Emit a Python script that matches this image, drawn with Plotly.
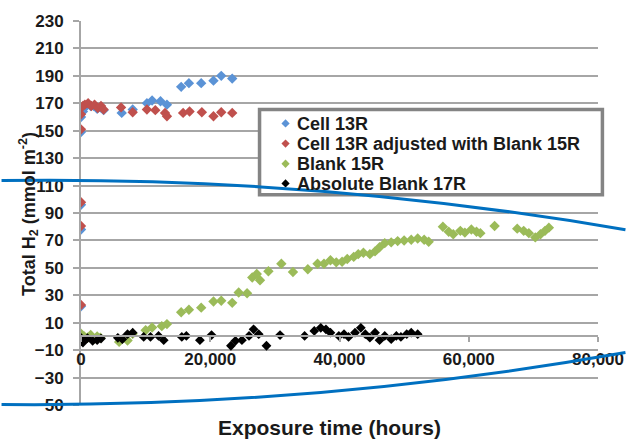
import plotly.graph_objects as go

# ---------------- data ----------------
cell_x = [0, 0, 0, 0, 0, 300, 600, 1000, 1500, 2000, 2500, 3000, 3500,
          6300, 8000, 10200, 11000, 12300, 13300, 15500, 16700, 18600, 20500, 21700, 23400]
cell_y = [22, 78, 96, 149, 160, 164, 167, 169, 168, 168, 166, 167, 165,
          163, 165.5, 170, 172, 171.5, 169, 182, 184.7, 184.7, 186.5, 190, 188]

adj_x = [0, 0, 0, 0, 0, 0, 300, 600, 1100, 1600, 2100, 2600, 3100, 3500,
         6200, 8000, 10200, 11500, 13000, 13300, 15800, 16800, 18700, 20500, 21700, 23400]
adj_y = [23, 80.5, 97.8, 151, 162, 167, 168, 169, 170, 168, 169, 166.5, 168, 165.5,
         167, 163.5, 165.5, 165, 163, 160.5, 163, 164, 163.5, 160.5, 163.5, 163]

blank_x = [0, 500, 1000, 1500, 2000, 2500, 3000, 5900, 7200, 8000, 10000, 11000, 12500, 13300,
           15500, 16700, 18600, 20500, 21700, 23400, 24400, 25700, 26500, 27200, 27700, 29000,
           31000, 32800, 35100, 36600, 37600, 38600, 39500, 40400, 41200, 42200, 42900, 43700,
           44700, 45500, 46200, 47000, 48000, 49000, 50000, 51100, 52100, 53100, 53800,
           56000, 56900, 57600, 58700, 59400, 60400, 61200, 61800, 64000, 67500, 68500,
           69300, 70300, 71100, 71800, 72400]
blank_y = [2, 0, -1, 1, -2, 0, -1, -4, -3, 2, 4.5, 6.5, 7.5, 9,
           17.6, 19.5, 21, 25.5, 26, 24.5, 32, 31.5, 43, 45.5, 41, 47.5,
           53, 47, 49, 53, 53, 55.5, 54, 54.5, 56.5, 58, 60, 61,
           60, 62, 65, 68, 68.6, 69.5, 70, 70.5, 71.4, 70.5, 69,
           80, 76.3, 74.5, 77, 75.7, 78, 76.3, 75.3, 80.5, 78.6, 77,
           75.3, 72.2, 74.5, 77, 79.3]

abs_x = [0, 300, 1000, 1800, 2500, 3100, 5700, 6400, 7200, 8000, 9700, 10750, 12000, 12800,
         15600, 16300, 18400, 20200, 23200, 23900, 24900, 26000, 26700, 27500, 28700, 30800,
         34600, 36100, 37100, 37900, 38600, 39900, 40700, 41400, 42400, 43300, 44000, 44700,
         45500, 46200, 47000, 48000, 48800, 49500, 50400, 51100, 52100]
abs_y = [-1, -4.5, -1.3, -3.2, -2.7, -1.6, -1, -2, 1.6, 2.7, -0.4, -0.4, 0.4, -2.7,
         -0.4, 0.4, -2.7, 1, -6.8, -3.2, -2.7, 0.4, 5.2, 1.6, -6.8, 1,
         0.4, 4, 6.3, 5.2, 2.7, 0.4, 1.6, -0.4, 2.7, 6.3, 1.6, -0.9,
         2.7, -2.7, 0.4, -2, 0.4, -0.4, 1.6, 2.7, 1.6]

series_names = ["Cell 13R", "Cell 13R adjusted with Blank 15R", "Blank 15R", "Absolute Blank 17R"]
series_colors = ["#5b93d6", "#c0504d", "#9bbb59", "#000000"]

x_ticks = [0, 20000, 40000, 60000, 80000]

# ---------------- figure ----------------
W, H = 636, 440
ML, MR, MT, MB = 81, 28, 15, 35
PW, PH = W - ML - MR, H - MT - MB


def px(xp):
    return (xp - ML) / PW


def py(yp):
    return (H - MB - yp) / PH


FONT = "Liberation Sans, Arial, sans-serif"
TXT = "#1a1a1a"
GRID = "#a6a6a6"

fig = go.Figure()
for xs, ys, nm, col, sz in [(cell_x, cell_y, series_names[0], series_colors[0], 8),
                            (adj_x, adj_y, series_names[1], series_colors[1], 8),
                            (blank_x, blank_y, series_names[2], series_colors[2], 8),
                            (abs_x, abs_y, series_names[3], series_colors[3], 7.5)]:
    fig.add_trace(go.Scatter(x=xs, y=ys, mode="markers", name=nm, showlegend=False,
                             marker=dict(symbol="diamond", size=sz, color=col, line=dict(width=0))))

y_zero_pos = (0 - (-50)) / (230 - (-50))

fig.update_layout(
    width=W, height=H,
    margin=dict(l=ML, r=MR, t=MT, b=MB, pad=0),
    paper_bgcolor="white", plot_bgcolor="white",
    showlegend=False,
    xaxis=dict(range=[0, 80000], tickvals=x_ticks, tickformat=",",
               showgrid=False, zeroline=False,
               showline=True, linecolor=GRID, linewidth=2,
               ticks="outside", ticklen=5, tickwidth=2, tickcolor=GRID,
               anchor="free", position=y_zero_pos,
               ticklabelstandoff=2,
               tickfont=dict(family=FONT, size=17, color=TXT, weight="bold")),
    yaxis=dict(range=[-50, 230], tick0=-50, dtick=20,
               showgrid=True, gridcolor=GRID, gridwidth=2,
               zeroline=False,
               showline=True, linecolor=GRID, linewidth=2,
               ticks="outside", ticklen=6, tickwidth=2, tickcolor=GRID,
               ticklabelstandoff=6,
               tickfont=dict(family=FONT, size=17, color=TXT, weight="bold")),
)

# legend box (white fill, gray border) drawn so that the blue curves pass over it
shapes = [dict(type="rect", xref="paper", yref="paper", layer="above",
               x0=px(263), x1=px(612.5), y0=py(191.5), y1=py(105),
               fillcolor="white", line=dict(color="#848484", width=3.5))]

# legend symbols (small diamonds)
row_y = [118.5, 139, 159.5, 179.5]
sym_x, sym_r = 289.5, 4.2
for col, ry in zip(series_colors, row_y):
    cy = ry + 0.5
    path = "M {:.4f},{:.4f} L {:.4f},{:.4f} L {:.4f},{:.4f} L {:.4f},{:.4f} Z".format(
        px(sym_x - sym_r), py(cy), px(sym_x), py(cy - sym_r),
        px(sym_x + sym_r), py(cy), px(sym_x), py(cy + sym_r))
    shapes.append(dict(type="path", xref="paper", yref="paper", layer="above",
                       path=path, fillcolor=col, line=dict(width=0)))


def qpath(p0, p1, p2):
    return "M {:.4f},{:.4f} Q {:.4f},{:.4f} {:.4f},{:.4f}".format(
        px(p0[0]), py(p0[1]), px(p1[0]), py(p1[1]), px(p2[0]), py(p2[1]))


for p0, p1, p2 in [((0, 177), (318, 172.5), (636, 227)),
                   ((0, 404.5), (318, 407.6), (636, 351.7))]:
    shapes.append(dict(type="path", xref="paper", yref="paper", layer="above",
                       path=qpath(p0, p1, p2), line=dict(color="#0070c0", width=3)))
fig.update_layout(shapes=shapes)

# legend texts
for nm, ry in zip(series_names, row_y):
    fig.add_annotation(text=nm, xref="paper", yref="paper",
                       x=px(299), y=py(ry + 1), xanchor="left", yanchor="middle",
                       showarrow=False,
                       font=dict(family=FONT, size=18, color=TXT, weight="bold"))

fig.add_annotation(text="Exposure time (hours)", xref="paper", yref="paper",
                   x=px(334), y=py(428), xanchor="center", yanchor="middle", showarrow=False,
                   font=dict(family=FONT, size=21, color=TXT, weight="bold"))
fig.add_annotation(text="Total H<sub>2</sub> (mmol m<sup>-2</sup>)", xref="paper", yref="paper",
                   x=px(28), y=py(211), xanchor="center", yanchor="middle", showarrow=False,
                   textangle=-90,
                   font=dict(family=FONT, size=18, color=TXT, weight="bold"))

fig.write_html("out.html")
